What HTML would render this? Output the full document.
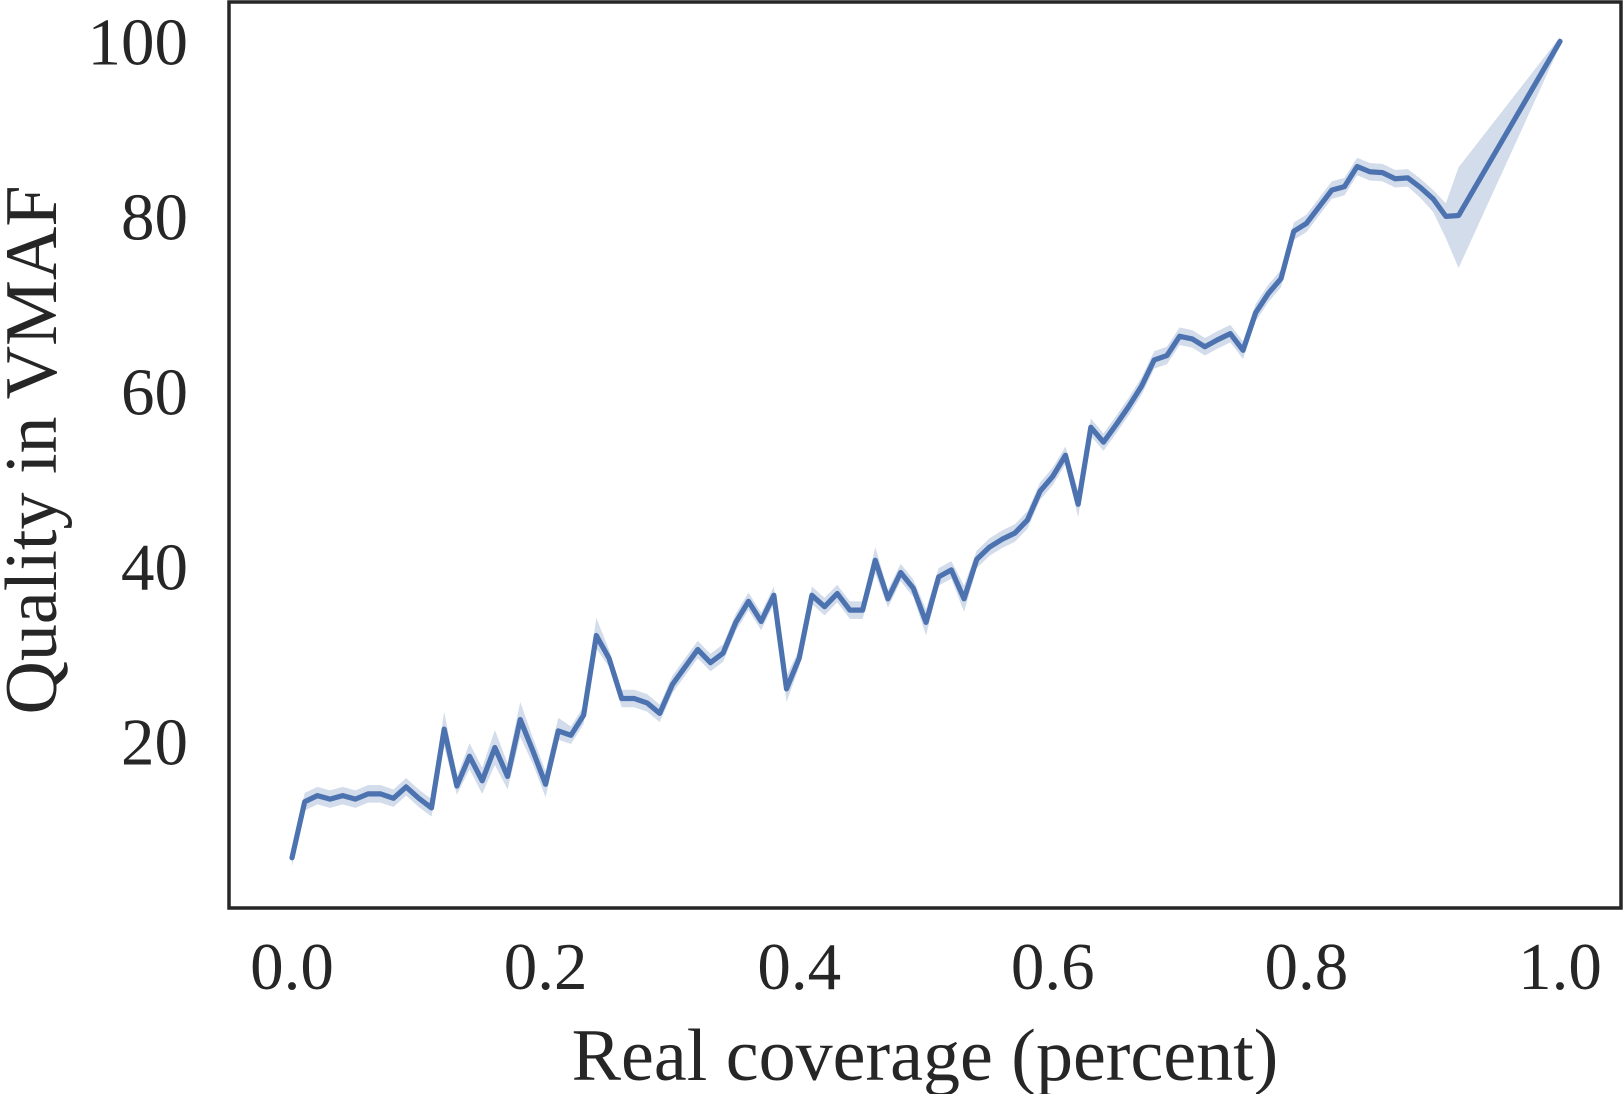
<!DOCTYPE html>
<html><head><meta charset="utf-8"><style>
html,body{margin:0;padding:0;background:#fff;}
svg{display:block;}
text{font-family:"Liberation Serif",serif;fill:#262626;}
</style></head><body>
<svg id="chart" width="1623" height="1094">
<g id="band"></g>
<g id="line"></g>
<rect x="229" y="2" width="1392" height="906" fill="none" stroke="#262626" stroke-width="3.5"/>
<g id="xticks"></g>
<g id="yticks"></g>
<text x="925" y="1080" font-size="74" text-anchor="middle">Real coverage (percent)</text>
<text transform="translate(56,450) rotate(-90)" font-size="74" text-anchor="middle">Quality in VMAF</text>
</svg>
<script>
const quality = [6.7,13.1,13.8,13.4,13.8,13.4,14.0,14.0,13.5,14.8,13.5,12.4,21.4,14.9,18.3,15.5,19.3,16.0,22.5,18.9,15.1,21.2,20.7,23.0,32.1,29.5,24.9,24.9,24.4,23.2,26.5,28.5,30.5,29.0,30.1,33.6,36.0,33.7,36.7,26.0,29.5,36.7,35.4,36.9,35.0,35.0,40.7,36.3,39.3,37.5,33.6,38.8,39.6,36.3,40.8,42.2,43.1,43.8,45.3,48.6,50.3,52.7,47.1,55.9,54.2,56.2,58.3,60.6,63.6,64.1,66.3,66.0,65.1,65.9,66.6,64.7,69.0,71.2,72.9,78.3,79.2,81.1,83.0,83.4,85.7,85.1,85.0,84.3,84.4,83.3,82.0,80.0,80.1,100];
const coverage = quality.map((d,i)=> i===quality.length-1 ? 1.0 : i/100);
const ciLow = [1,1,1,1,1,1,1,1,1,1,1,1,2,1,1.5,1.5,2,1.5,2,1.5,1.5,1,1,1,1.5,1,1,1,1,1,1,1,1,1,1,1,1,1,1,1.5,1,1,1,1,1,1,1.5,1,1,1,1.5,1,1,1.5,1,1,1,1,1,1,1,1,1.5,1,1,1,1,1,1,1,1,1,1,1,1,1,1,1,1,1,1,1,1,1,1,1,1,1,1,1.2,1.5,2.5,6,0.5];
const ciHigh = [1,1,1,1,1,1,1,1,1,1,1,1,2,1,1.5,1.5,2,1.5,2,1.5,1.5,1.5,1,1,2,1,1,1,1,1,1,1,1,1,1,1,1,1,1,1.5,1,1,1,1,1,1,1.5,1,1,1,1.5,1,1,1.5,1,1,1,1,1,1,1,1,1.5,1,1,1,1,1,1,1,1,1,1,1,1,1,1,1,1,1,1,1,1,1,1,1,1,1,1,1,1,1.5,5.5,0.5];
const xTicks = [0,0.2,0.4,0.6,0.8,1.0];
const xTickLabels = ["0.0","0.2","0.4","0.6","0.8","1.0"];
const yTicks = [20,40,60,80,100];
const yTickLabels = ["20","40","60","80","100"];

const NS="http://www.w3.org/2000/svg";
const xs = v => 292 + 1268*v;
const ys = v => 41.4 + (100-v)*8.75;

let up=[],dn=[];
coverage.forEach((c,i)=>{up.push(xs(c)+","+ys(quality[i]+ciHigh[i]));dn.unshift(xs(c)+","+ys(quality[i]-ciLow[i]));});
const poly=document.createElementNS(NS,"polygon");
poly.setAttribute("points",up.concat(dn).join(" "));
poly.setAttribute("fill","rgba(76,114,176,0.25)");


document.getElementById("band").appendChild(poly);

const pl=document.createElementNS(NS,"polyline");
pl.setAttribute("points",coverage.map((c,i)=>xs(c)+","+ys(quality[i])).join(" "));
pl.setAttribute("fill","none");pl.setAttribute("stroke","#4c72b0");
pl.setAttribute("stroke-width","5.2");pl.setAttribute("stroke-linejoin","round");pl.setAttribute("stroke-linecap","round");


document.getElementById("line").appendChild(pl);

xTicks.forEach((t,i)=>{
 const tx=document.createElementNS(NS,"text");
 tx.setAttribute("x",xs(t));tx.setAttribute("y",989);tx.setAttribute("font-size","67");tx.setAttribute("text-anchor","middle");
 tx.textContent=xTickLabels[i];
 
 
 document.getElementById("xticks").appendChild(tx);
});
yTicks.forEach((t,i)=>{
 const tx=document.createElementNS(NS,"text");
 tx.setAttribute("x",188);tx.setAttribute("y",ys(t)+23);tx.setAttribute("font-size","67");tx.setAttribute("text-anchor","end");
 tx.textContent=yTickLabels[i];
 
 
 document.getElementById("yticks").appendChild(tx);
});
</script>
</body></html>
